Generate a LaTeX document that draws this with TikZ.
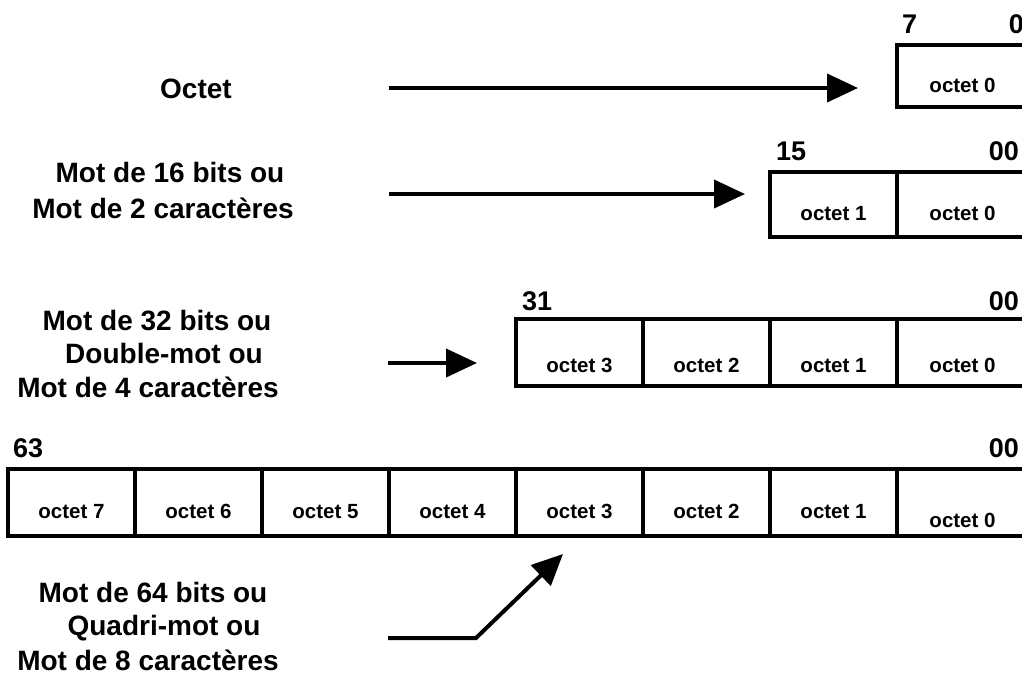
\documentclass[tikz,border=0pt]{standalone}
\usepackage{fontspec}
\setmainfont{Liberation Sans}
\usetikzlibrary{arrows.meta}
\begin{document}
\begin{tikzpicture}[x=1pt,y=-1pt,
  cell/.style={draw, line width=4pt, minimum width=127pt, inner sep=0pt, outer sep=0pt,
    font=\fontsize{20.5}{24}\selectfont\bfseries, text height=31pt, text depth=0pt,
    anchor=north west},
  lastcell/.style={cell, minimum width=131pt},
  bitnum/.style={font=\fontsize{27}{32}\selectfont\bfseries, inner sep=0pt},
  caption/.style={font=\fontsize{28}{33}\selectfont\bfseries, inner sep=0pt, anchor=base},
  pointer/.style={line width=4pt, -{Triangle[length=31pt,width=28pt]}},
]
\useasboundingbox (0,0) rectangle (1022,681);

% ---- byte ----
\node[lastcell, minimum height=62pt, text height=32pt] (a0) at (897,45) {octet 0};
\node[bitnum, anchor=base west] (a7lbl) at ([xshift=5pt,yshift=12pt]a0.north west) {7};
\node[bitnum, anchor=base east] (a0lbl) at ([xshift=-4pt,yshift=12pt]a0.north east) {0};

% ---- 16-bit word ----
\node[cell, minimum height=65pt] (b1) at (770,172) {octet 1};
\node[lastcell, minimum height=65pt] (b0) at (b1.north east) {octet 0};
\node[bitnum, anchor=base west] (b15lbl) at ([xshift=6pt,yshift=12pt]b1.north west) {15};
\node[bitnum, anchor=base east] (b0lbl) at ([xshift=-9pt,yshift=12pt]b0.north east) {00};

% ---- 32-bit word ----
\node[cell, minimum height=67pt, text height=39pt] (c3) at (516,319) {octet 3};
\node[cell, minimum height=67pt, text height=39pt] (c2) at (c3.north east) {octet 2};
\node[cell, minimum height=67pt, text height=39pt] (c1) at (c2.north east) {octet 1};
\node[lastcell, minimum height=67pt, text height=39pt] (c0) at (c1.north east) {octet 0};
\node[bitnum, anchor=base west] (c31lbl) at ([xshift=6pt,yshift=9pt]c3.north west) {31};
\node[bitnum, anchor=base east] (c0lbl) at ([xshift=-9pt,yshift=9pt]c0.north east) {00};

% ---- 64-bit word ----
\node[cell, minimum height=67pt] (d7) at (8,469) {octet 7};
\node[cell, minimum height=67pt] (d6) at (d7.north east) {octet 6};
\node[cell, minimum height=67pt] (d5) at (d6.north east) {octet 5};
\node[cell, minimum height=67pt] (d4) at (d5.north east) {octet 4};
\node[cell, minimum height=67pt] (d3) at (d4.north east) {octet 3};
\node[cell, minimum height=67pt] (d2) at (d3.north east) {octet 2};
\node[cell, minimum height=67pt] (d1) at (d2.north east) {octet 1};
\node[lastcell, minimum height=67pt, text height=49pt] (d0) at (d1.north east) {octet 0};
\node[bitnum, anchor=base west] (d63lbl) at ([xshift=5pt,yshift=12pt]d7.north west) {63};
\node[bitnum, anchor=base east] (d0lbl) at ([xshift=-9pt,yshift=12pt]d0.north east) {00};

% ---- captions ----
\node[caption] (t1) at (196,98) {Octet};
\node[caption] (t2a) at (170,182) {Mot de 16 bits ou};
\node[caption] (t2b) at (163,218) {Mot de 2 caractères};
\node[caption] (t3a) at (157,330) {Mot de 32 bits ou};
\node[caption] (t3b) at (164,363) {Double-mot ou};
\node[caption] (t3c) at (148,397) {Mot de 4 caractères};
\node[caption] (t4a) at (153,602) {Mot de 64 bits ou};
\node[caption] (t4b) at (164,635) {Quadri-mot ou};
\node[caption] (t4c) at (148,670) {Mot de 8 caractères};

% ---- pointers ----
\coordinate (p1s) at (389,88);  \coordinate (p1e) at (858,88);
\coordinate (p2s) at (389,194); \coordinate (p2e) at (745,194);
\coordinate (p3s) at (388,363); \coordinate (p3e) at (477,363);
\coordinate (p4s) at (388,638); \coordinate (p4k) at (476,638); \coordinate (p4e) at (563,554);
\draw[pointer] (p1s) -- (p1e);
\draw[pointer] (p2s) -- (p2e);
\draw[pointer] (p3s) -- (p3e);
\draw[pointer] (p4s) -- (p4k) -- (p4e);
\end{tikzpicture}
\end{document}
